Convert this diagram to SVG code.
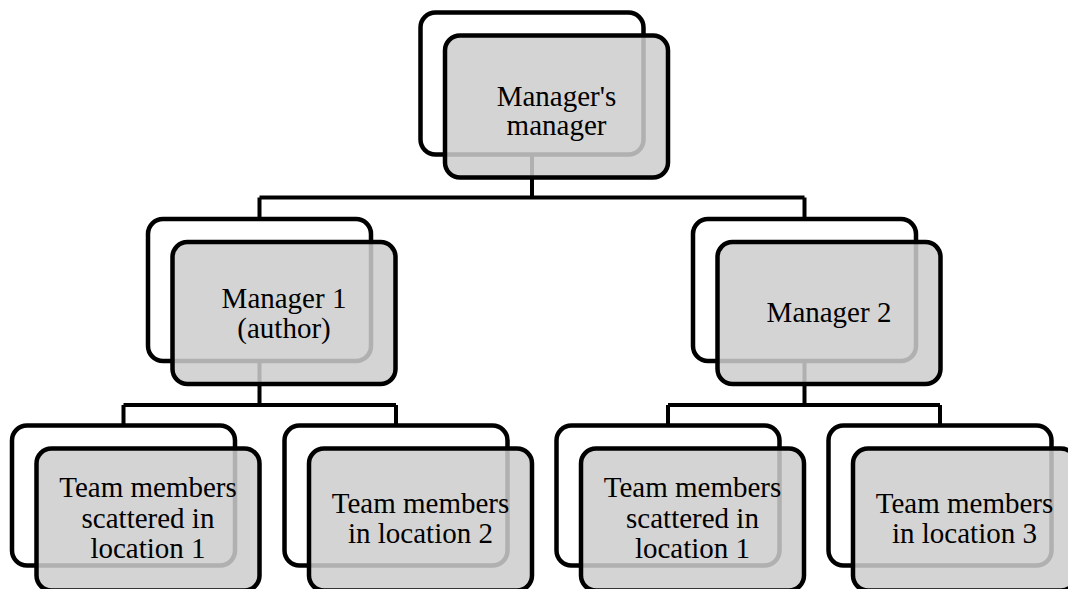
<svg xmlns="http://www.w3.org/2000/svg" width="1068" height="589" viewBox="0 0 1068 589">
<style>
.back{fill:#ffffff;stroke:#000000;stroke-width:4.5}
.front{fill:rgb(205,205,205);fill-opacity:0.86;stroke:#000000;stroke-width:4.5}
.conn{fill:none;stroke:#000000;stroke-width:4}
.lbl{font-family:'Liberation Serif','Times New Roman',Tinos,'DejaVu Serif',serif;font-size:29px;fill:#000000;text-anchor:middle}
</style>
<rect width="1068" height="589" fill="#ffffff"/>
<g id="connectors">
<path class="conn" d="M532,155 V197.5 M259.5,197.5 H804.5 M259.5,197.5 V219 M804.5,197.5 V219"/>
<path class="conn" d="M259.5,360 V405 M123.5,405 H396 M123.5,405 V425.5 M396,405 V425.5"/>
<path class="conn" d="M804.5,360 V405 M668,405 H940 M668,405 V425.5 M940,405 V425.5"/>
</g>
<g id="node-top">
<rect class="back" x="420.5" y="12.5" width="223" height="142" rx="15"/>
<rect class="front" x="445" y="35.5" width="223" height="142" rx="15"/>
<text class="lbl" font-family="Liberation Serif, serif" x="556.5" y="106">Manager's</text>
<text class="lbl" font-family="Liberation Serif, serif" x="556.5" y="135">manager</text>
</g>
<g id="node-m1">
<rect class="back" x="148" y="219" width="223" height="142" rx="15"/>
<rect class="front" x="172.5" y="242" width="223" height="142" rx="15"/>
<text class="lbl" font-family="Liberation Serif, serif" x="284" y="308">Manager 1</text>
<text class="lbl" font-family="Liberation Serif, serif" x="284" y="338">(author)</text>
</g>
<g id="node-m2">
<rect class="back" x="693" y="219" width="223" height="142" rx="15"/>
<rect class="front" x="717.5" y="242" width="223" height="142" rx="15"/>
<text class="lbl" font-family="Liberation Serif, serif" x="829" y="322">Manager 2</text>
</g>
<g id="node-t1">
<rect class="back" x="12" y="425.5" width="223" height="140" rx="15"/>
<rect class="front" x="36.5" y="448.5" width="223" height="142" rx="15"/>
<text class="lbl" font-family="Liberation Serif, serif" x="148" y="497">Team members</text>
<text class="lbl" font-family="Liberation Serif, serif" x="148" y="528">scattered in</text>
<text class="lbl" font-family="Liberation Serif, serif" x="148" y="558">location 1</text>
</g>
<g id="node-t2">
<rect class="back" x="284.5" y="425.5" width="223" height="140" rx="15"/>
<rect class="front" x="309" y="448.5" width="223" height="142" rx="15"/>
<text class="lbl" font-family="Liberation Serif, serif" x="420.5" y="513">Team members</text>
<text class="lbl" font-family="Liberation Serif, serif" x="420.5" y="543">in location 2</text>
</g>
<g id="node-t3">
<rect class="back" x="556.5" y="425.5" width="223" height="140" rx="15"/>
<rect class="front" x="581" y="448.5" width="223" height="142" rx="15"/>
<text class="lbl" font-family="Liberation Serif, serif" x="692.5" y="497">Team members</text>
<text class="lbl" font-family="Liberation Serif, serif" x="692.5" y="528">scattered in</text>
<text class="lbl" font-family="Liberation Serif, serif" x="692.5" y="558">location 1</text>
</g>
<g id="node-t4">
<rect class="back" x="828.5" y="425.5" width="223" height="140" rx="15"/>
<rect class="front" x="853" y="448.5" width="223" height="142" rx="15"/>
<text class="lbl" font-family="Liberation Serif, serif" x="964.5" y="513">Team members</text>
<text class="lbl" font-family="Liberation Serif, serif" x="964.5" y="543">in location 3</text>
</g>
</svg>
